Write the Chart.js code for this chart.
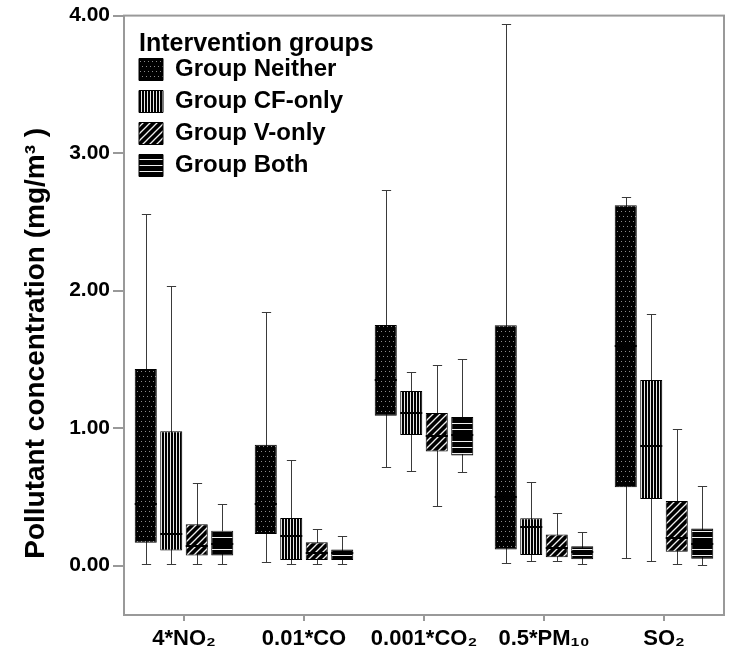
<!DOCTYPE html>
<html>
<head>
<meta charset="utf-8">
<script src="https://cdn.jsdelivr.net/npm/chart.js@4/dist/chart.umd.min.js"></script>
<style>
  html, body { margin: 0; padding: 0; background: #fff; }
  canvas { display: block; }
</style>
</head>
<body>
<canvas id="c" width="743" height="659"></canvas>
<script>
// ---- Data ----
const categories = ['4*NO₂', '0.01*CO', '0.001*CO₂', '0.5*PM₁₀', 'SO₂'];
const groupNames = ['Group Neither', 'Group CF-only', 'Group V-only', 'Group Both'];
const yTicks = [0, 1, 2, 3, 4];
// each row: [lower whisker, Q1, median, Q3, upper whisker] per category
const groupNeither = [
  [0.010, 0.166, 0.45, 1.430, 2.56],
  [0.024, 0.229, 0.45, 0.878, 1.845],
  [0.720, 1.090, 1.35, 1.750, 2.73],
  [0.020, 0.117, 0.50, 1.747, 3.94],
  [0.056, 0.570, 1.60, 2.620, 2.68]
];
const groupCFonly = [
  [0.010, 0.110, 0.226, 0.976, 2.03],
  [0.010, 0.040, 0.214, 0.345, 0.77],
  [0.690, 0.950, 1.107, 1.270, 1.41],
  [0.032, 0.077, 0.283, 0.344, 0.61],
  [0.036, 0.484, 0.870, 1.350, 1.83]
];
const groupVonly = [
  [0.010, 0.073, 0.14, 0.300, 0.60],
  [0.010, 0.040, 0.09, 0.170, 0.265],
  [0.430, 0.830, 0.94, 1.110, 1.455],
  [0.030, 0.060, 0.13, 0.225, 0.38],
  [0.010, 0.100, 0.20, 0.470, 0.995]
];
const groupBoth = [
  [0.010, 0.073, 0.16, 0.253, 0.45],
  [0.010, 0.040, 0.09, 0.117, 0.217],
  [0.680, 0.800, 0.95, 1.080, 1.50],
  [0.013, 0.045, 0.10, 0.140, 0.244],
  [0.005, 0.050, 0.16, 0.270, 0.58]
];

// ---- Fill patterns ----
function makePattern(kind) {
  const c = document.createElement('canvas');
  let w = 4, h = 4;
  if (kind === 'dots') { w = 4; h = 10; }
  if (kind === 'vert') { w = 3; h = 1; }
  if (kind === 'diag') { w = 7; h = 7; }
  if (kind === 'horiz') { w = 1; h = 6; }
  c.width = w; c.height = h;
  const g = c.getContext('2d');
  g.fillStyle = '#000';
  g.fillRect(0, 0, w, h);
  if (kind === 'dots') {
    g.fillStyle = '#8a8a8a';
    g.fillRect(1, 1, 1, 1);
    g.fillRect(3, 6, 1, 1);
  } else if (kind === 'vert') {
    g.fillStyle = '#e8e8e8';
    g.fillRect(2, 0, 1, 1);
  } else if (kind === 'diag') {
    g.strokeStyle = '#f0f0f0';
    g.lineWidth = 1.3;
    g.beginPath();
    g.moveTo(-1, w + 1); g.lineTo(w + 1, -1);
    g.moveTo(-1, 1); g.lineTo(1, -1);
    g.moveTo(w - 1, w + 1); g.lineTo(w + 1, w - 1);
    g.stroke();
  } else if (kind === 'horiz') {
    g.fillStyle = '#f0f0f0';
    g.fillRect(0, 3, 1, 1);
  }
  const ctx = document.getElementById('c').getContext('2d');
  return ctx.createPattern(c, 'repeat');
}

const groupStats = [groupNeither, groupCFonly, groupVonly, groupBoth];
const groupFills = [makePattern('dots'), makePattern('vert'), makePattern('diag'), makePattern('horiz')];

const datasets = groupStats.map((stats, i) => ({
  label: groupNames[i],
  data: stats.map(s => [s[1], s[3]]),
  stats: stats,
  backgroundColor: groupFills[i],
  borderColor: '#000',
  borderWidth: 1,
  borderSkipped: false,
  categoryPercentage: 0.85,
  barPercentage: 0.865
}));

const FONT = "'Liberation Sans', Arial, sans-serif";

// Whiskers (behind boxes) and medians (on top) drawn through the scales
const boxPlotPlugin = {
  id: 'boxplot',
  beforeDraw(chart) {
    // nudge legend block and y-axis title to match the reference placement
    const lg = chart.legend;
    if (lg && !lg._nudged) {
      const d = lg.draw.bind(lg), dt = lg.drawTitle.bind(lg);
      lg.drawTitle = function () { const c = this.ctx; c.save(); c.translate(8, 0); dt(); c.restore(); };
      lg.draw = function (a) { const c = this.ctx; c.save(); c.translate(7, 0); d(a); c.restore(); };
      lg._nudged = true;
    }
    const ys = chart.scales.y;
    if (ys && !ys._nudged) {
      const t = ys.drawTitle.bind(ys);
      ys.drawTitle = function () { const c = this.ctx; c.save(); c.translate(0, 28); t(); c.restore(); };
      ys._nudged = true;
    }
  },
  beforeDatasetsDraw(chart) {
    const ctx = chart.ctx, y = chart.scales.y;
    ctx.save();
    ctx.strokeStyle = '#3a3a3a';
    ctx.lineWidth = 1;
    chart.data.datasets.forEach((ds, di) => {
      const meta = chart.getDatasetMeta(di);
      meta.data.forEach((bar, i) => {
        const s = ds.stats[i];
        const x = Math.round(bar.x) + 0.5;
        const yLo = Math.round(y.getPixelForValue(s[0])) + 0.5;
        const yHi = Math.round(y.getPixelForValue(s[4])) + 0.5;
        const capHalf = bar.width * 0.21;
        ctx.beginPath();
        ctx.moveTo(x, yLo); ctx.lineTo(x, yHi);
        ctx.moveTo(x - capHalf, yLo); ctx.lineTo(x + capHalf, yLo);
        ctx.moveTo(x - capHalf, yHi); ctx.lineTo(x + capHalf, yHi);
        ctx.stroke();
      });
    });
    ctx.restore();
  },
  afterDatasetsDraw(chart) {
    const ctx = chart.ctx, y = chart.scales.y;
    ctx.save();
    ctx.strokeStyle = '#000';
    ctx.lineWidth = 2;
    chart.data.datasets.forEach((ds, di) => {
      const meta = chart.getDatasetMeta(di);
      meta.data.forEach((bar, i) => {
        const s = ds.stats[i];
        const ym = Math.round(y.getPixelForValue(s[2]));
        ctx.beginPath();
        ctx.moveTo(bar.x - bar.width / 2, ym);
        ctx.lineTo(bar.x + bar.width / 2, ym);
        ctx.stroke();
      });
    });
    // frame
    const a = chart.chartArea;
    ctx.strokeStyle = '#999';
    ctx.lineWidth = 2;
    ctx.strokeRect(a.left, a.top, a.right - a.left, a.bottom - a.top);
    ctx.restore();
  }
};

new Chart(document.getElementById('c'), {
  type: 'bar',
  data: { labels: categories, datasets: datasets },
  options: {
    responsive: false,
    devicePixelRatio: 1,
    animation: false,
    layout: { padding: { top: 15, right: 19, left: 0, bottom: 0 } },
    plugins: {
      tooltip: { enabled: false },
      legend: {
        position: 'chartArea',
        align: 'start',
        title: {
          display: true,
          position: 'start',
          text: 'Intervention groups',
          color: '#000',
          font: { family: FONT, size: 25, weight: 'bold', lineHeight: 0.7 },
          padding: { top: 32, bottom: 0 }
        },
        labels: {
          color: '#000',
          font: { family: FONT, size: 24, weight: 'bold' },
          boxWidth: 24,
          boxHeight: 22,
          padding: 8
        }
      }
    },
    scales: {
      x: {
        grid: { offset: false, drawOnChartArea: false, drawTicks: true, tickLength: 6, color: '#999', lineWidth: 2 },
        border: { display: false },
        ticks: {
          color: '#000',
          font: { family: FONT, size: 22, weight: 'bold' },
          padding: 5,
          maxRotation: 0,
          autoSkip: false
        },
        afterFit(scale) { scale.height = 44; }
      },
      y: {
        min: -0.36,
        max: 4,
        afterBuildTicks(scale) { scale.ticks = yTicks.map(v => ({ value: v })); },
        grid: { drawOnChartArea: false, drawTicks: true, tickLength: 11, color: '#999', lineWidth: 2 },
        border: { display: false },
        ticks: {
          color: '#000',
          font: { family: FONT, size: 21, weight: 'bold' },
          padding: 3,
          callback: v => Number(v).toFixed(2)
        },
        title: {
          display: true,
          text: 'Pollutant concentration (mg/m³ )',
          color: '#000',
          font: { family: FONT, size: 28, weight: 'bold' },
          padding: { top: 19, bottom: 0 }
        },
        afterFit(scale) { scale.width = 124; }
      }
    }
  },
  plugins: [boxPlotPlugin]
});
</script>
</body>
</html>
